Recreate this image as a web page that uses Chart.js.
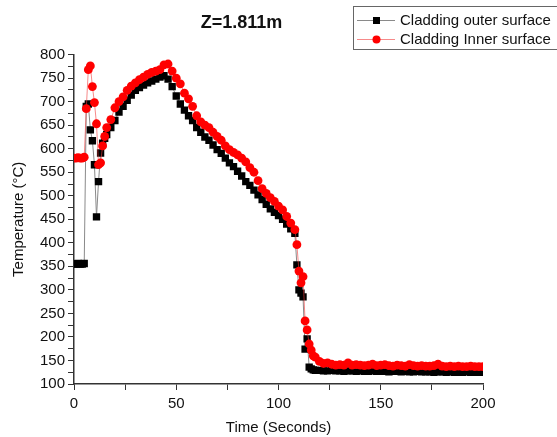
<!DOCTYPE html>
<html>
<head>
<meta charset="utf-8">
<script src="https://cdn.jsdelivr.net/npm/chart.js@4"></script>
<style>
  html, body { margin: 0; padding: 0; background: #fff; }
  #wrap { width: 557px; height: 437px; }
</style>
</head>
<body>
<div id="wrap"><canvas id="chart" width="557" height="437"></canvas></div>
<script>
// time axis (s), shared by both series
const times = [
  0, 1, 2, 3, 4, 5, 6, 7, 8, 9, 10, 11, 12, 13, 14, 15, 16,
  18, 20, 22, 24, 26, 28, 30, 32, 34, 36, 38, 40, 42, 44, 46, 48, 50, 52, 54, 56, 58, 60,
  62, 64, 66, 68, 70, 72, 74, 76, 78, 80, 82, 84, 86, 88, 90, 92, 94, 96, 98, 100,
  102, 104, 106, 108,
  109, 110, 111, 112, 113, 114, 115, 116, 117, 118,
  120, 122, 124, 126, 128, 130, 132, 134, 136, 138, 140, 142, 144, 146, 148, 150,
  152, 154, 156, 158, 160, 162, 164, 166, 168, 170, 172, 174, 176, 178, 180,
  182, 184, 186, 188, 190, 192, 194, 196, 198, 200
];

const outerTemps = [
  355, 355, 356, 355, 355, 356, 690, 695, 640, 617, 566, 455, 530, 591, 612, 622, 630,
  645, 660, 678, 690, 703, 714, 724, 730, 735, 740, 744, 748, 752, 755, 748, 732, 712, 695, 682, 670, 660, 645,
  635, 625, 618, 608, 598, 590, 580, 570, 562, 552, 542, 530, 522, 512, 502, 492, 482, 472, 465, 458,
  450, 440, 430, 420,
  353, 300, 293, 285, 174, 196, 136, 132, 130, 129,
  129, 128, 128, 129, 128, 128, 127, 128, 128, 127, 128, 127, 127, 128, 127, 127,
  127, 126, 127, 127, 126, 127, 126, 126, 127, 126, 126, 126, 125, 126, 126,
  125, 126, 125, 125, 125, 126, 125, 125, 125, 125
];

const innerTemps = [
  580, 580, 581, 580, 580, 582, 685, 768, 776, 732, 698, 653, 566, 570, 606, 626, 645,
  662, 687, 700, 710, 724, 733, 740, 747, 752, 758, 762, 765, 768, 778, 780, 765, 750, 738, 718, 706, 690, 670,
  657, 650, 645, 635, 626, 618, 606, 598, 592, 587, 580, 572, 560, 550, 532, 515, 505, 496, 488, 478,
  470, 456, 442, 428,
  396, 340, 315, 328, 234, 215, 185, 172, 160, 157,
  148, 144, 145, 142, 140, 141, 140, 145, 140, 141, 140, 139, 140, 142, 139, 140,
  141, 139, 138, 140, 139, 138, 141, 139, 138, 139, 138, 138, 139, 142, 138,
  137, 138, 137, 138, 137, 137, 138, 137, 137, 137
];

const seriesNames = ['Cladding outer surface', 'Cladding Inner surface'];
const chartTitle = 'Z=1.811m';
const xTitle = 'Time (Seconds)';
const yTitle = 'Temperature (\u00B0C)';

const FONT = 'Liberation Sans, Arial, Helvetica, sans-serif';
const AXIS = '#333';

// boxed legend with line-marker-line samples, like the original
const boxLegend = {
  id: 'boxLegend',
  afterDraw(chart) {
    const ctx = chart.ctx;
    ctx.save();
    ctx.strokeStyle = '#666';
    ctx.lineWidth = 1;
    ctx.strokeRect(353.5, 6.5, 210, 43);
    chart.data.datasets.forEach((ds, i) => {
      const y = 20 + i * 19;
      ctx.strokeStyle = ds.borderColor;
      ctx.lineWidth = 1;
      ctx.beginPath();
      ctx.moveTo(357, y + 0.5);
      ctx.lineTo(395, y + 0.5);
      ctx.stroke();
      ctx.fillStyle = ds.pointBackgroundColor;
      if (ds.pointStyle === 'rect') {
        ctx.fillRect(373, y - 3, 7, 7);
      } else {
        ctx.beginPath();
        ctx.arc(376.5, y + 0.5, 4, 0, Math.PI * 2);
        ctx.fill();
      }
      ctx.fillStyle = '#111';
      ctx.font = '15px ' + FONT;
      ctx.textBaseline = 'middle';
      ctx.fillText(ds.label, 400, y + 1);
    });
    ctx.restore();
  }
};

const tickEvery50 = v => (v % 50 === 0 ? v : '');

new Chart(document.getElementById('chart'), {
  type: 'line',
  data: {
    datasets: [
      {
        label: seriesNames[0],
        data: times.map((t, i) => ({ x: t, y: outerTemps[i] })),
        borderColor: '#8a8a8a',
        borderWidth: 1,
        pointStyle: 'rect',
        pointRadius: 5.2,
        pointBackgroundColor: '#000',
        pointBorderColor: '#000',
        pointBorderWidth: 0,
        order: 1,
      },
      {
        label: seriesNames[1],
        data: times.map((t, i) => ({ x: t, y: innerTemps[i] })),
        borderColor: 'rgba(240,60,60,0.6)',
        borderWidth: 1,
        pointStyle: 'circle',
        pointRadius: 4.4,
        pointBackgroundColor: '#f00',
        pointBorderColor: '#f00',
        pointBorderWidth: 0,
        order: 0,
      },
    ],
  },
  options: {
    responsive: false,
    animation: false,
    layout: { padding: { top: 0, right: 74, bottom: 0, left: 0 } },
    plugins: {
      legend: { display: false },
      tooltip: { enabled: false },
      title: {
        display: true,
        text: chartTitle,
        color: '#111',
        font: { family: FONT, size: 18, weight: 'bold' },
        padding: { top: 12, bottom: 21 },
      },
    },
    scales: {
      x: {
        type: 'linear',
        min: 0,
        max: 200,
        afterFit: s => { s.height = 53; },
        ticks: { stepSize: 25, autoSkip: false, maxRotation: 0, callback: tickEvery50, color: '#111', font: { family: FONT, size: 15 }, padding: 5 },
        grid: { drawOnChartArea: false, drawTicks: true, tickLength: 6, color: AXIS },
        border: { display: true, color: AXIS, width: 1.5 },
        title: { display: true, text: xTitle, color: '#111', font: { family: FONT, size: 15 }, padding: { top: 0, bottom: 0 } },
      },
      y: {
        min: 100,
        max: 800,
        afterFit: s => { s.width = 74; },
        ticks: { stepSize: 25, autoSkip: false, callback: tickEvery50, color: '#111', font: { family: FONT, size: 15 }, padding: 3 },
        grid: { drawOnChartArea: false, drawTicks: true, tickLength: 6, color: AXIS },
        border: { display: true, color: AXIS, width: 1.5 },
        title: { display: true, text: yTitle, color: '#111', font: { family: FONT, size: 15 }, padding: { top: 10, bottom: 0 } },
      },
    },
  },
  plugins: [boxLegend],
});
</script>
</body>
</html>
